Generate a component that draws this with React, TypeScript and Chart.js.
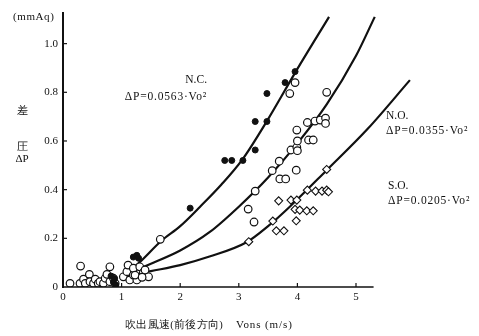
import React, { useEffect, useRef } from "react";
import { Chart, registerables } from "chart.js";
Chart.register(...registerables);

// N.C. measured points (filled dots)
const ncX = [0.82, 0.86, 0.9, 0.88, 1.2, 1.26, 1.29, 2.17, 2.76, 2.88, 3.07, 3.28, 3.28, 3.48, 3.48, 3.79, 3.96];
const ncY = [0.045, 0.02, 0.008, 0.035, 0.123, 0.13, 0.118, 0.324, 0.52, 0.52, 0.52, 0.563, 0.68, 0.68, 0.795, 0.84, 0.885];

// N.O. measured points (open circles)
const noX = [0.12, 0.3, 0.8, 0.29, 0.35, 0.38, 0.45, 0.46, 0.52, 0.55, 0.6, 0.63, 0.69, 0.72, 0.75, 0.8, 0.86, 0.89,
  1.03, 1.09, 1.11, 1.14, 1.2, 1.26, 1.29, 1.2, 1.31, 1.37, 1.46, 1.23, 1.4, 1.35, 1.66,
  3.16, 3.26, 3.28, 3.57, 3.69, 3.7, 3.8, 3.98, 3.89, 3.99, 4.0, 4.0, 4.19, 4.27, 3.99, 4.17, 4.3, 4.39, 4.48, 4.48, 4.5, 3.87, 3.96];
const noY = [0.015, 0.086, 0.083, 0.015, 0.032, 0.015, 0.052, 0.022, 0.015, 0.032, 0.015, 0.022, 0.015, 0.036, 0.052, 0.022, 0.036, 0.015,
  0.042, 0.063, 0.09, 0.029, 0.049, 0.029, 0.056, 0.077, 0.083, 0.059, 0.042, 0.049, 0.07, 0.04, 0.196,
  0.32, 0.267, 0.394, 0.478, 0.517, 0.444, 0.444, 0.48, 0.563, 0.574, 0.56, 0.6, 0.604, 0.604, 0.645, 0.676, 0.682, 0.686, 0.694, 0.672, 0.8, 0.795, 0.84];

// S.O. measured points (diamonds)
const soX = [3.17, 3.58, 3.64, 3.77, 3.68, 3.89, 3.99, 3.96, 4.04, 4.16, 4.27, 3.98, 4.17, 4.31, 4.42, 4.5, 4.53, 4.5];
const soY = [0.186, 0.271, 0.231, 0.231, 0.354, 0.357, 0.357, 0.319, 0.316, 0.313, 0.313, 0.272, 0.398, 0.394, 0.394, 0.398, 0.391, 0.483];

// fitted curves
const ncCurveX = [1.0, 1.3, 1.68, 2.0, 2.34, 2.7, 3.05, 3.5, 3.96, 4.54];
const ncCurveY = [0.04, 0.1, 0.19, 0.25, 0.33, 0.42, 0.52, 0.69, 0.88, 1.11];
const noCurveX = [1.0, 1.4, 2.0, 2.5, 3.0, 3.5, 4.0, 4.5, 5.0, 5.32];
const noCurveY = [0.04, 0.085, 0.15, 0.225, 0.33, 0.45, 0.59, 0.75, 0.95, 1.11];
const soCurveX = [1.0, 1.5, 2.0, 2.5, 3.14, 3.5, 3.87, 4.5, 5.2, 5.92];
const soCurveY = [0.04, 0.065, 0.09, 0.125, 0.185, 0.25, 0.33, 0.48, 0.65, 0.85];

const xTicks = [0, 1, 2, 3, 4, 5];
const xTickLabels = ["0", "1", "2", "3", "4", "5"];
const yTicks = [0, 0.2, 0.4, 0.6, 0.8, 1.0];
const yTickLabels = ["0", "0.2", "0.4", "0.6", "0.8", "1.0"];

const zip = (xs: number[], ys: number[]) => xs.map((x, i) => ({ x, y: ys[i] }));

const SERIF = '"Liberation Serif", "DejaVu Serif", serif';
const INK = "#111";

const decorPlugin = {
  id: "decor",
  afterDraw(chart: any) {
    const ctx = chart.ctx as CanvasRenderingContext2D;
    const xs = chart.scales.x;
    const ys = chart.scales.y;
    const x0 = xs.getPixelForValue(0);
    const y0 = ys.getPixelForValue(0);
    ctx.save();
    ctx.strokeStyle = INK;
    // y axis
    ctx.lineWidth = 2;
    ctx.beginPath();
    ctx.moveTo(x0, y0 + 1);
    ctx.lineTo(x0, chart.chartArea.top);
    ctx.stroke();
    // x axis
    ctx.lineWidth = 1.6;
    ctx.beginPath();
    ctx.moveTo(x0, y0);
    ctx.lineTo(xs.getPixelForValue(5.3), y0);
    ctx.stroke();
    // ticks
    ctx.lineWidth = 1.2;
    yTicks.slice(1).forEach((v) => {
      const p = ys.getPixelForValue(v);
      ctx.beginPath();
      ctx.moveTo(x0, p);
      ctx.lineTo(x0 + 4, p);
      ctx.stroke();
    });
    xTicks.slice(1).forEach((v) => {
      const p = xs.getPixelForValue(v);
      ctx.beginPath();
      ctx.moveTo(p, y0);
      ctx.lineTo(p, y0 - 4);
      ctx.stroke();
    });

    ctx.fillStyle = INK;
    ctx.textBaseline = "middle";
    const txt = (s: string, x: number, y: number, size: number, align: CanvasTextAlign = "left", ls = "0px") => {
      ctx.font = `${size}px ${SERIF}`;
      (ctx as any).letterSpacing = ls;
      ctx.textAlign = align;
      ctx.fillText(s, x, y);
    };
    txt("(mmAq)", 13, 17, 11, "left", "0.6px");
    txt("差", 22, 111, 11, "center");
    txt("圧", 22, 147, 11, "center");
    txt("ΔP", 22, 159, 11, "center");

    txt("N.C.", 207, 80, 11.5, "right");
    txt("ΔP=0.0563·Vo²", 207, 97, 11.5, "right", "0.8px");
    txt("N.O.", 386, 116, 11.5, "left");
    txt("ΔP=0.0355·Vo²", 386, 131, 11.5, "left", "0.8px");
    txt("S.O.", 388, 186, 11.5, "left");
    txt("ΔP=0.0205·Vo²", 388, 201, 11.5, "left", "0.8px");

    txt("吹出風速(前後方向)", 125, 325, 10.5, "left", "0.3px");
    txt("Vons (m/s)", 236, 325, 11, "left", "0.9px");
    ctx.restore();
  },
};

export default function App() {
  const ref = useRef<HTMLCanvasElement>(null);
  useEffect(() => {
    document.body.style.margin = "0";
    const lineDs = (xs: number[], ys: number[]) => ({
      type: "line" as const,
      data: zip(xs, ys),
      borderColor: INK,
      borderWidth: 2.2,
      pointRadius: 0,
      fill: false,
      tension: 0.4,
      cubicInterpolationMode: "monotone" as const,
      order: 2,
    });
    const chart = new Chart(ref.current!, {
      type: "scatter",
      data: {
        datasets: [
          lineDs(ncCurveX, ncCurveY) as any,
          lineDs(noCurveX, noCurveY) as any,
          lineDs(soCurveX, soCurveY) as any,
          {
            label: "N.O.",
            data: zip(noX, noY),
            pointStyle: "circle",
            pointRadius: 3.8,
            backgroundColor: "#fff",
            borderColor: INK,
            borderWidth: 1.2,
            order: 1,
          },
          {
            label: "S.O.",
            data: zip(soX, soY),
            pointStyle: "rectRot",
            pointRadius: 4,
            backgroundColor: "#fff",
            borderColor: INK,
            borderWidth: 1.1,
            order: 1,
          },
          {
            label: "N.C.",
            data: zip(ncX, ncY),
            pointStyle: "circle",
            pointRadius: 3,
            backgroundColor: INK,
            borderColor: INK,
            borderWidth: 1,
            order: 0,
          },
        ],
      },
      options: {
        responsive: false,
        animation: false,
        layout: { padding: { top: 12, right: 64.4, left: 0, bottom: 0 } },
        plugins: { legend: { display: false }, tooltip: { enabled: false } },
        scales: {
          x: {
            type: "linear",
            min: 0,
            max: 6,
            grid: { display: false, drawTicks: false },
            border: { display: false },
            afterBuildTicks: (s: any) => {
              s.ticks = xTicks.map((v) => ({ value: v }));
            },
            afterFit: (s: any) => {
              s.height = 49;
            },
            ticks: {
              padding: 4,
              color: INK,
              font: { family: SERIF, size: 11 },
              maxRotation: 0,
              callback: (v: any) => xTickLabels[xTicks.indexOf(Number(v))] ?? "",
            },
          },
          y: {
            type: "linear",
            min: 0,
            max: 1.13,
            grid: { display: false, drawTicks: false },
            border: { display: false },
            afterBuildTicks: (s: any) => {
              s.ticks = yTicks.map((v) => ({ value: v }));
            },
            afterFit: (s: any) => {
              s.width = 63;
            },
            ticks: {
              padding: 5,
              color: INK,
              font: { family: SERIF, size: 11 },
              callback: (v: any) => {
                const i = yTicks.findIndex((t) => Math.abs(t - Number(v)) < 1e-6);
                return i >= 0 ? yTickLabels[i] : "";
              },
            },
          },
        },
      },
      plugins: [decorPlugin],
    });
    return () => chart.destroy();
  }, []);
  return (
    <div style={{ position: "fixed", left: 0, top: 0, width: 479, height: 336, background: "#fff" }}>
      <canvas ref={ref} width={479} height={336} />
    </div>
  );
}
